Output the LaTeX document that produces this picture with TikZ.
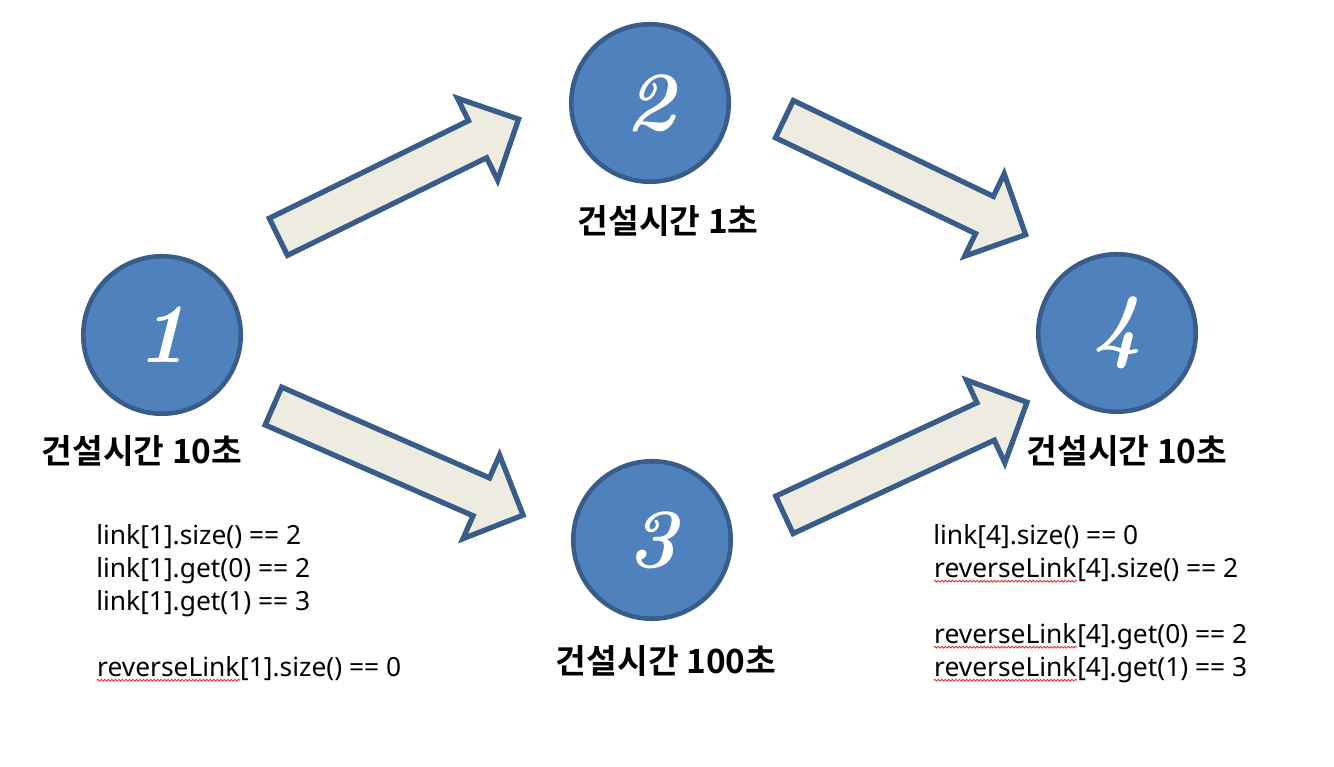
\documentclass[tikz,border=0pt]{standalone}
\usepackage{fontspec}
\usetikzlibrary{shapes.arrows,decorations.pathmorphing}
\newfontfamily\krfont{Noto Sans CJK KR}[BoldFont={Noto Sans CJK KR Bold}]
\newfontfamily\codefont{Noto Sans}
\definecolor{nodeblue}{HTML}{4F81BD}
\definecolor{edgeblue}{HTML}{385D8A}
\definecolor{arrowtan}{HTML}{EEECE1}
\definecolor{typored}{HTML}{E03030}
% red spell-check squiggle under a word
\newcommand{\typo}[1]{\tikz[baseline=(t.base)]{\node[inner sep=0pt] (t) {#1};
  \draw[typored, line width=0.5pt, decorate, decoration={snake, amplitude=0.5pt, segment length=2pt}]
    ([yshift=-1.5pt]t.south west) -- ([yshift=-1.5pt]t.south east);}}

\begin{document}
\begin{tikzpicture}[
    vertex/.style={circle, draw=edgeblue, fill=nodeblue, line width=2.6pt, minimum size=3.15cm, inner sep=0pt,
      text=white, font=\fontsize{48}{48}\selectfont\bfseries\itshape},
    blockarrow/.style={single arrow, draw=edgeblue, fill=arrowtan, line width=3pt, inner xsep=0pt, inner ysep=0.36cm,
      single arrow head extend=0.5cm, single arrow tip angle=90, minimum height=5.35cm, anchor=tail},
    buildtime/.style={font=\krfont\bfseries\fontsize{19}{22}\selectfont, inner sep=0pt},
    codetext/.style={font=\codefont\fontsize{15}{18.8}\selectfont, align=left, anchor=base west, inner sep=0pt}
  ]
  \useasboundingbox (0,0) rectangle (26.68,15.34);

  % the four sites
  \node[vertex] (v1) at (3.24,8.64) {1};
  \node[vertex] (v2) at (13.0,13.28) {2};
  \node[vertex] (v3) at (13.04,4.54) {3};
  \node[vertex] (v4) at (22.34,8.68) {4};

  \node[buildtime] (t1) at (2.84,6.32) {건설시간 10초};
  \node[buildtime] (t2) at (13.36,10.92) {건설시간 1초};
  \node[buildtime] (t3) at (13.32,2.12) {건설시간 100초};
  \node[buildtime] (t4) at (22.54,6.32) {건설시간 10초};

  % links
  \node[blockarrow, rotate=26.1] (a12) at (5.52,10.58) {};
  \node[blockarrow, rotate=-23.6, minimum height=5.45cm] (a13) at (5.42,7.24) {};
  \node[blockarrow, rotate=-25.6] (a24) at (15.64,12.98) {};
  \node[blockarrow, rotate=24.9] (a34) at (15.64,5.02) {};

  \node[codetext] (c1) at (1.92,1.8) {link[1].size() == 2\\ link[1].get(0) == 2\\ link[1].get(1) == 3\\[0.66cm]
    \typo{reverseLink}[1].size() == 0};
  \node[codetext] (c4) at (18.66,1.8) {link[4].size() == 0\\ \typo{reverseLink}[4].size() == 2\\[0.66cm]
    \typo{reverseLink}[4].get(0) == 2\\ \typo{reverseLink}[4].get(1) == 3};
\end{tikzpicture}
\end{document}
